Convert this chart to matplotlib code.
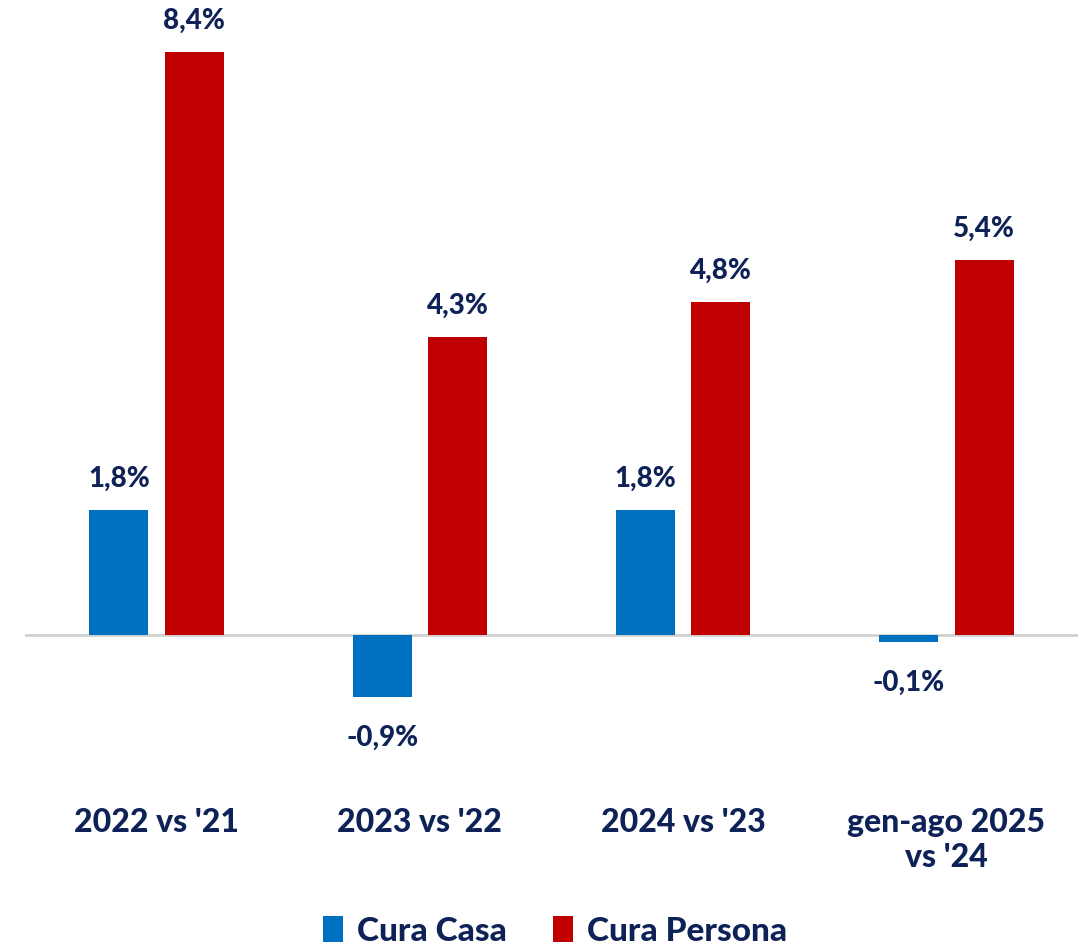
import numpy as np
import matplotlib.pyplot as plt

# ----- data -----
categories = ["2022 vs '21", "2023 vs '22", "2024 vs '23", "gen-ago 2025\nvs '24"]
cura_casa = [1.8, -0.9, 1.8, -0.1]
cura_persona = [8.4, 4.3, 4.8, 5.4]
series_names = ["Cura Casa", "Cura Persona"]

# ----- style -----
blue = "#0070c0"
red = "#c00000"
navy = "#0f2257"
plt.rcParams['font.family'] = ['Lato', 'DejaVu Sans']
plt.rcParams['font.weight'] = 'black'

fig = plt.figure(figsize=(10.82, 9.5), dpi=100)
ax = fig.add_axes([0.0231, 0.1855, 0.9732, 0.8036])

x = np.arange(len(categories))
w = 0.224
off = 0.143
b1 = ax.bar(x - off, cura_casa, w, color=blue, label=series_names[0])
b2 = ax.bar(x + off, cura_persona, w, color=red, label=series_names[1])

ax.axhline(0, color="#d0d0d0", lw=2, zorder=0)

def fmt(v):
    return f"{v:.1f}%".replace(".", ",")

for bars, vals in ((b1, cura_casa), (b2, cura_persona)):
    for b, v in zip(bars, vals):
        cx = b.get_x() + b.get_width() / 2
        if v >= 0:
            ax.annotate(fmt(v), (cx, v), xytext=(0, 13), textcoords="offset points",
                        ha="center", va="bottom", fontsize=20, color=navy, fontweight="black")
        else:
            ax.annotate(fmt(v), (cx, v), xytext=(0, -20), textcoords="offset points",
                        ha="center", va="top", fontsize=20, color=navy, fontweight="black")

ax.set_xlim(-0.5, 3.5)
ax.set_ylim(-2, 9.0)
ax.set_xticks(x)
ax.set_xticklabels(categories, fontsize=23, color=navy, fontweight="black", linespacing=1.25)
ax.tick_params(axis="x", length=0, pad=25)
ax.set_yticks([])
for s in ax.spines.values():
    s.set_visible(False)

fig.legend(loc="center", bbox_to_anchor=(0.513, 0.02), ncol=2, frameon=False,
           fontsize=24, labelcolor=navy, handlelength=0.6, handleheight=0.8,
           handletextpad=0.4, columnspacing=1.4, borderaxespad=0)

fig.savefig("out.png", dpi=100)
